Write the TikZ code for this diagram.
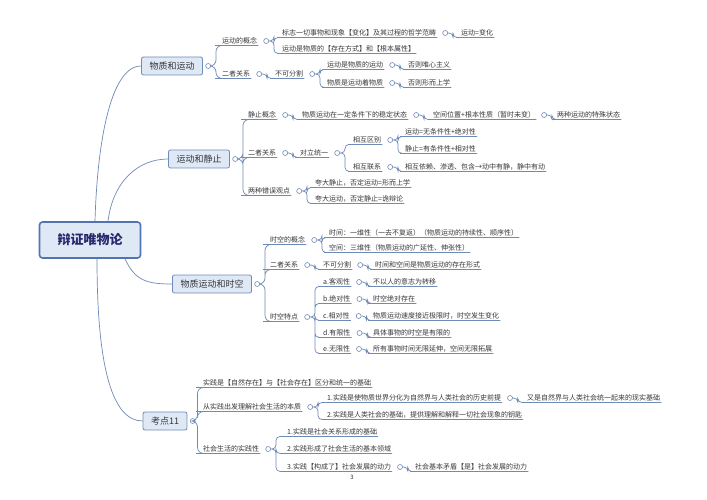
\documentclass[tikz,border=0pt]{standalone}
\usepackage{fontspec}
\setmainfont{Noto Sans CJK SC}
\usetikzlibrary{positioning}
\definecolor{linkcol}{RGB}{110,138,182}
\definecolor{boxfill}{RGB}{223,232,245}
\definecolor{boxdraw}{RGB}{112,140,186}
\definecolor{rootdraw}{RGB}{82,116,176}
\definecolor{textcol}{RGB}{55,55,60}

\begin{document}
\begin{tikzpicture}[
        x=1pt, y=-1pt,
        root/.style={rectangle, draw=rootdraw, line width=1.6pt, fill=boxfill, rounded corners=3pt,
                     minimum width=101pt, minimum height=36pt,
                     font=\fontsize{13}{15}\selectfont\bfseries, text=textcol!75!blue},
        topic/.style={rectangle, draw=boxdraw, line width=0.8pt, fill=boxfill, rounded corners=2pt,
                      minimum height=18pt, inner xsep=8pt, font=\fontsize{9}{11}\selectfont, text=textcol},
        item/.style={anchor=west, inner xsep=1pt, inner ysep=1pt, font=\fontsize{7}{8}\selectfont, text=textcol},
        knob/.style={circle, draw=linkcol, fill=white, line width=0.6pt, minimum size=5pt, inner sep=0pt},
        link/.style={draw=linkcol, line width=0.7pt, rounded corners=4pt},
        fork/.style={to path={-- ++(#1,0) |- (\tikztotarget.south west) -- (\tikztotarget.south east)}},
        fork/.default=5pt
    ]
        \fill[white] (0,0) rectangle (707,500);
        \useasboundingbox (0,0) rectangle (707,500);

        % Root
        \node[root] (root) at (90,240) {辩证唯物论};

        % 物质和运动
        \node[topic] (b1) at (172,66) {物质和运动};
        \node[knob, right=2.5pt of b1] (b1k) {};
        \node[item] (c11) at (221,41) {运动的概念};
        \node[knob, right=5pt of c11] (c11k) {};
        \node[item] (c111) at (281,33) {标志一切事物和现象【变化】及其过程的哲学范畴};
        \node[knob, right=5pt of c111] (c111k) {};
        \node[item] (c1111) at (460,33) {运动=变化};
        \node[item] (c112) at (281,49) {运动是物质的【存在方式】和【根本属性】};
        \node[item] (c12) at (221,74) {二者关系};
        \node[knob, right=5pt of c12] (c12k) {};
        \node[item] (c121) at (274,74) {不可分割};
        \node[knob, right=5pt of c121] (c121k) {};
        \node[item] (c1211) at (326,65) {运动是物质的运动};
        \node[knob, right=5pt of c1211] (c1211k) {};
        \node[item] (c12111) at (407,65) {否则唯心主义};
        \node[item] (c1212) at (326,83) {物质是运动着物质};
        \node[knob, right=5pt of c1212] (c1212k) {};
        \node[item] (c12121) at (407,83) {否则形而上学};
        \draw[link, rounded corners=6pt] (b1k.east) to[fork] (c11) (b1k.east) to[fork] (c12);
        \draw[link] (c11k.east) to[fork] (c111) (c11k.east) to[fork] (c112);
        \draw[link] (c111k.east) to[fork] (c1111);
        \draw[link] (c12k.east) to[fork] (c121);
        \draw[link] (c121k.east) to[fork] (c1211) (c121k.east) to[fork] (c1212);
        \draw[link] (c1211k.east) to[fork] (c12111);
        \draw[link] (c1212k.east) to[fork] (c12121);

        % 运动和静止
        \node[topic] (b2) at (199,159) {运动和静止};
        \node[knob, right=2.5pt of b2] (b2k) {};
        \node[item] (c21) at (247,115) {静止概念};
        \node[knob, right=5pt of c21] (c21k) {};
        \node[item] (c211) at (301,115) {物质运动在一定条件下的稳定状态};
        \node[knob, right=5pt of c211] (c211k) {};
        \node[item] (c2111) at (432,115) {空间位置+根本性质（暂时未变）};
        \node[knob, right=5pt of c2111] (c2111k) {};
        \node[item] (c21111) at (556,115) {两种运动的特殊状态};
        \node[item] (c22) at (247,153) {二者关系};
        \node[knob, right=5pt of c22] (c22k) {};
        \node[item] (c221) at (299,153) {对立统一};
        \node[knob, right=5pt of c221] (c221k) {};
        \node[item] (c2211) at (352,140) {相互区别};
        \node[knob, right=5pt of c2211] (c2211k) {};
        \node[item] (c22111) at (404,132) {运动=无条件性+绝对性};
        \node[item] (c22112) at (404,149) {静止=有条件性+相对性};
        \node[item] (c2212) at (352,167) {相互联系};
        \node[knob, right=5pt of c2212] (c2212k) {};
        \node[item] (c22121) at (404,167) {相互依赖、渗透、包含→动中有静，静中有动};
        \node[item] (c23) at (247,191) {两种错误观点};
        \node[knob, right=5pt of c23] (c23k) {};
        \node[item] (c231) at (314,183) {夸大静止，否定运动=形而上学};
        \node[item] (c232) at (314,199) {夸大运动，否定静止=诡辩论};
        \draw[link, rounded corners=6pt] (b2k.east) to[fork] (c21) (b2k.east) to[fork] (c22)
            (b2k.east) to[fork] (c23);
        \draw[link] (c21k.east) to[fork] (c211);
        \draw[link] (c211k.east) to[fork] (c2111);
        \draw[link] (c2111k.east) to[fork] (c21111);
        \draw[link] (c22k.east) to[fork] (c221);
        \draw[link] (c221k.east) to[fork] (c2211) (c221k.east) to[fork] (c2212);
        \draw[link] (c2211k.east) to[fork] (c22111) (c2211k.east) to[fork] (c22112);
        \draw[link] (c2212k.east) to[fork] (c22121);
        \draw[link] (c23k.east) to[fork] (c231) (c23k.east) to[fork] (c232);

        % 物质运动和时空
        \node[topic] (b3) at (212,284) {物质运动和时空};
        \node[knob, right=2.5pt of b3] (b3k) {};
        \node[item] (c31) at (269,240) {时空的概念};
        \node[knob, right=5pt of c31] (c31k) {};
        \node[item] (c311) at (328,233) {时间：一维性（一去不复返）（物质运动的持续性、顺序性）};
        \node[item] (c312) at (328,248) {空间：三维性（物质运动的广延性、伸张性）};
        \node[item] (c32) at (269,265) {二者关系};
        \node[knob, right=5pt of c32] (c32k) {};
        \node[item] (c321) at (322,265) {不可分割};
        \node[knob, right=5pt of c321] (c321k) {};
        \node[item] (c3211) at (374,265) {时间和空间是物质运动的存在形式};
        \node[item] (c33) at (269,317) {时空特点};
        \node[knob, right=5pt of c33] (c33k) {};
        \node[item] (c331) at (322,282) {a.客观性};
        \node[knob, right=5pt of c331] (c331k) {};
        \node[item] (c3311) at (372,282) {不以人的意志为转移};
        \node[item] (c332) at (322,299) {b.绝对性};
        \node[knob, right=5pt of c332] (c332k) {};
        \node[item] (c3321) at (372,299) {时空绝对存在};
        \node[item] (c333) at (322,316) {c.相对性};
        \node[knob, right=5pt of c333] (c333k) {};
        \node[item] (c3331) at (372,316) {物质运动速度接近极限时，时空发生变化};
        \node[item] (c334) at (322,333) {d.有限性};
        \node[knob, right=5pt of c334] (c334k) {};
        \node[item] (c3341) at (372,333) {具体事物的时空是有限的};
        \node[item] (c335) at (322,349) {e.无限性};
        \node[knob, right=5pt of c335] (c335k) {};
        \node[item] (c3351) at (372,349) {所有事物时间无限延伸，空间无限拓展};
        \draw[link, rounded corners=6pt] (b3k.east) to[fork] (c31) (b3k.east) to[fork] (c32)
            (b3k.east) to[fork] (c33);
        \draw[link] (c31k.east) to[fork] (c311) (c31k.east) to[fork] (c312);
        \draw[link] (c32k.east) to[fork] (c321);
        \draw[link] (c321k.east) to[fork] (c3211);
        \draw[link] (c33k.east) to[fork] (c331) (c33k.east) to[fork] (c332) (c33k.east) to[fork] (c333)
            (c33k.east) to[fork] (c334) (c33k.east) to[fork] (c335);
        \draw[link] (c331k.east) to[fork] (c3311);
        \draw[link] (c332k.east) to[fork] (c3321);
        \draw[link] (c333k.east) to[fork] (c3331);
        \draw[link] (c334k.east) to[fork] (c3341);
        \draw[link] (c335k.east) to[fork] (c3351);

        % 考点11
        \node[topic] (b4) at (165,421) {考点11};
        \node[knob, right=2.5pt of b4] (b4k) {};
        \node[item] (c41) at (202,383) {实践是【自然存在】与【社会存在】区分和统一的基础};
        \node[item] (c42) at (202,407) {从实践出发理解社会生活的本质};
        \node[knob, right=5pt of c42] (c42k) {};
        \node[item] (c421) at (326,398) {1.实践是使物质世界分化为自然界与人类社会的历史前提};
        \node[knob, right=5pt of c421] (c421k) {};
        \node[item] (c4211) at (526,398) {又是自然界与人类社会统一起来的现实基础};
        \node[item] (c422) at (326,415) {2.实践是人类社会的基础，提供理解和解释一切社会现象的钥匙};
        \node[item] (c43) at (202,449) {社会生活的实践性};
        \node[knob, right=5pt of c43] (c43k) {};
        \node[item] (c431) at (286,432) {1.实践是社会关系形成的基础};
        \node[item] (c432) at (286,449) {2.实践形成了社会生活的基本领域};
        \node[item] (c433) at (286,467) {3.实践【构成了】社会发展的动力};
        \node[knob, right=5pt of c433] (c433k) {};
        \node[item] (c4331) at (414,467) {社会基本矛盾【是】社会发展的动力};
        \draw[link, rounded corners=6pt] (b4k.east) to[fork=2pt] (c41) (b4k.east) to[fork=2pt] (c42)
            (b4k.east) to[fork=2pt] (c43);
        \draw[link] (c42k.east) to[fork] (c421) (c42k.east) to[fork] (c422);
        \draw[link] (c421k.east) to[fork] (c4211);
        \draw[link] (c43k.east) to[fork] (c431) (c43k.east) to[fork] (c432) (c43k.east) to[fork] (c433);
        \draw[link] (c433k.east) to[fork] (c4331);

        % Root to branches
        \draw[link] ([xshift=5pt]root.north) .. controls +(2,-72) and +(-32,0) .. (b1.west);
        \draw[link] ([xshift=18pt]root.north) .. controls +(5,-40) and +(-30,0) .. (b2.west);
        \draw[link] ([xshift=35pt]root.south) .. controls +(10,22) and +(-25,0) .. (b3.west);
        \draw[link] ([xshift=7pt]root.south) .. controls +(0,110) and +(-30,0) .. (b4.west);

        % Page number
        \node[font=\fontsize{6}{7}\selectfont, text=textcol] (pageno) at (352,477) {3};
    \end{tikzpicture}
\end{document}
